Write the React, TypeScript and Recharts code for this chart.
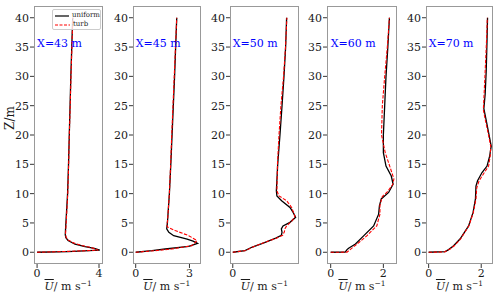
import { ScatterChart, Scatter, XAxis, YAxis, ReferenceDot } from "recharts";

// [U, Z] pairs
const x43Uniform = [[0, 0], [2.0, 0.12], [4.05, 0.35], [3.7, 0.65], [3.1, 0.95], [2.45, 1.4], [2.0, 2.0], [1.86, 2.5], [1.82, 3.0], [1.86, 5], [1.97, 10], [2.03, 15], [2.08, 20], [2.13, 25], [2.18, 30], [2.24, 35], [2.3, 40]];
const x43Turb = [[0, 0], [2.0, 0.15], [3.95, 0.35], [3.5, 0.8], [2.9, 1.15], [2.35, 1.6], [2.0, 2.1], [1.87, 2.6], [1.84, 3.2], [1.88, 5], [1.98, 10], [2.04, 15], [2.08, 20], [2.14, 25], [2.19, 30], [2.25, 35], [2.31, 40]];

const x45Uniform = [[0, 0], [0.91, 0.28], [1.65, 0.56], [2.96, 1.02], [3.45, 1.53], [3.2, 1.9], [2.87, 2.26], [2.12, 2.83], [1.85, 3.4], [1.73, 4.0], [1.77, 5], [1.88, 10], [1.96, 15], [2.03, 20], [2.1, 25], [2.17, 30], [2.23, 35], [2.29, 40]];
const x45Turb = [[0, 0], [1.09, 0.28], [2.02, 0.56], [3.13, 1.13], [3.42, 1.98], [3.2, 2.4], [2.96, 2.83], [2.2, 3.7], [1.78, 4.3], [1.74, 4.6], [1.78, 5.5], [1.88, 10], [1.95, 15], [2.01, 20], [2.08, 25], [2.15, 30], [2.22, 35], [2.29, 40]];

const x50Uniform = [[0, 0], [0.88, 0.27], [1.37, 0.85], [2.33, 1.7], [3.1, 2.4], [3.5, 2.9], [3.55, 3.4], [3.5, 4.0], [3.62, 4.5], [4.12, 5.1], [4.53, 5.96], [4.35, 6.8], [4.12, 7.65], [3.52, 8.8], [3.18, 9.6], [3.14, 10.5], [3.24, 15], [3.4, 20], [3.55, 25], [3.69, 30], [3.81, 35], [3.88, 40]];
const x50Turb = [[0, 0], [0.95, 0.3], [1.4, 0.85], [2.3, 1.7], [3.1, 2.35], [3.6, 2.9], [3.72, 3.5], [3.76, 4.0], [3.88, 4.5], [4.25, 5.3], [4.48, 6.1], [4.24, 7.65], [3.88, 8.8], [3.33, 9.6], [3.18, 10.5], [3.22, 15], [3.33, 20], [3.47, 25], [3.66, 30], [3.8, 35], [3.9, 40]];

const x60Uniform = [[0, 0], [0.55, 0.02], [0.62, 0.45], [0.68, 0.7], [0.94, 1.4], [1.25, 2.8], [1.63, 4.5], [1.82, 6.5], [1.85, 7.9], [1.92, 9.1], [2.2, 10.2], [2.37, 11.6], [2.3, 13.0], [2.1, 14.7], [2.0, 17.0], [2.0, 20], [2.05, 25], [2.1, 30], [2.17, 35], [2.23, 40]];
const x60Turb = [[0, 0], [0.62, 0.02], [0.75, 0.5], [1.0, 1.4], [1.37, 2.8], [1.75, 4.5], [1.87, 6.5], [1.87, 8], [1.96, 9.5], [2.13, 10.2], [2.35, 11.5], [2.4, 12.5], [2.24, 14.7], [2.07, 17], [1.93, 20], [1.96, 25], [2.05, 30], [2.15, 35], [2.23, 40]];

const x70Uniform = [[0, 0], [0.63, 0.1], [0.76, 0.45], [0.95, 1.1], [1.2, 2.3], [1.52, 4.5], [1.69, 6.8], [1.78, 9.1], [1.8, 11.3], [1.86, 12.2], [2.03, 13.6], [2.22, 14.7], [2.32, 16.4], [2.38, 18.1], [2.28, 20.4], [2.18, 22.7], [2.1, 24.5], [2.15, 27], [2.19, 31], [2.22, 36], [2.24, 40]];
const x70Turb = [[0, 0], [0.6, 0.05], [0.8, 0.5], [1.0, 1.2], [1.22, 2.3], [1.53, 4.5], [1.7, 6.8], [1.8, 9.1], [1.83, 11], [1.92, 12.2], [2.12, 13.6], [2.28, 14.7], [2.34, 16.4], [2.36, 18.1], [2.26, 20.4], [2.15, 22.7], [2.08, 24.3], [2.12, 28], [2.17, 33], [2.21, 37], [2.23, 40]];

const zTicks = [0, 5, 10, 15, 20, 25, 30, 35, 40];
const panelTitles = ["X=43 m", "X=45 m", "X=50 m", "X=60 m", "X=70 m"];
const seriesNames = ["uniform", "turb"];

const toPts = (a: number[][]) => a.map(([u, z]) => ({ u, z }));

const FONT = "'DejaVu Serif', 'Liberation Serif', serif";
const Y_AXIS_W = 30;
const TOP = 6;
const BOTTOM = 264;

const panels = [
  { title: panelTitles[0], left: 33.5, width: 69.2, domain: [-0.2, 4.27], ticks: [0, 4], uniform: x43Uniform, turb: x43Turb },
  { title: panelTitles[1], left: 132.7, width: 68.3, domain: [-0.15, 3.66], ticks: [0, 3], uniform: x45Uniform, turb: x45Turb },
  { title: panelTitles[2], left: 230, width: 68.7, domain: [-0.2, 4.75], ticks: [0], uniform: x50Uniform, turb: x50Turb },
  { title: panelTitles[3], left: 326.7, width: 70.6, domain: [-0.14, 2.54], ticks: [0, 2], uniform: x60Uniform, turb: x60Turb },
  { title: panelTitles[4], left: 425.7, width: 67.6, domain: [-0.1, 2.47], ticks: [0, 2], uniform: x70Uniform, turb: x70Turb },
];

const tickStyle = { fontSize: 11, fill: "#1a1a1a", fontFamily: FONT };
const noDot = () => <g />;

function Panel({ p }: { p: (typeof panels)[number] }) {
  return (
    <div style={{ position: "absolute", left: p.left - Y_AXIS_W, top: 0 }}>
      <ScatterChart width={Y_AXIS_W + p.width} height={298} margin={{ top: TOP, right: 0, bottom: 14, left: 0 }}>
        <XAxis
          type="number"
          dataKey="u"
          domain={p.domain}
          ticks={p.ticks}
          allowDataOverflow
          height={20}
          tickSize={4}
          tickMargin={1}
          axisLine={false}
          tickLine={{ stroke: "#333" }}
          tick={tickStyle}
        />
        <YAxis
          type="number"
          dataKey="z"
          domain={[-2, 42]}
          ticks={zTicks}
          allowDataOverflow
          width={Y_AXIS_W}
          tickSize={4}
          tickMargin={1}
          axisLine={false}
          tickLine={{ stroke: "#333" }}
          tick={tickStyle}
        />
        <Scatter
          name={seriesNames[0]}
          data={toPts(p.uniform)}
          line={{ stroke: "#000", strokeWidth: 1.3 }}
          fill="#000"
          shape={noDot}
          isAnimationActive={false}
        />
        <Scatter
          name={seriesNames[1]}
          data={toPts(p.turb)}
          line={{ stroke: "#ff0000", strokeWidth: 1.1, strokeDasharray: "3.5 1.5" }}
          fill="#ff0000"
          shape={noDot}
          isAnimationActive={false}
        />
        <ReferenceDot
          x={0}
          y={35}
          r={0}
          ifOverflow="visible"
          shape={(s: any) => (
            <text x={s.cx} y={s.cy} fill="#0000ff" fontSize={11} fontFamily={FONT}>
              {p.title}
            </text>
          )}
        />
      </ScatterChart>
      <div
        style={{
          position: "absolute",
          left: Y_AXIS_W,
          top: TOP,
          width: p.width,
          height: BOTTOM - TOP,
          border: "1px solid #999",
          boxSizing: "border-box",
          pointerEvents: "none",
        }}
      />
      <div
        style={{
          position: "absolute",
          left: Y_AXIS_W,
          top: 279,
          width: p.width,
          textAlign: "center",
          fontFamily: FONT,
          fontSize: 11,
          color: "#1a1a1a",
          whiteSpace: "nowrap",
        }}
      >
        <span style={{ fontStyle: "italic", textDecoration: "overline" }}>U</span>/ m s
        <sup style={{ fontSize: 7.5, verticalAlign: "4px" }}>−1</sup>
      </div>
    </div>
  );
}

export default function App() {
  return (
    <div style={{ position: "absolute", left: 0, top: 0, width: 500, height: 298, background: "#fff", overflow: "hidden" }}>
      {panels.map((p) => (
        <Panel key={p.title} p={p} />
      ))}
      <div
        style={{
          position: "absolute",
          left: 10,
          top: 118,
          transform: "translate(-50%, -50%) rotate(-90deg)",
          fontFamily: FONT,
          fontSize: 12,
          color: "#1a1a1a",
          whiteSpace: "nowrap",
        }}
      >
        Z/m
      </div>
      <div
        style={{
          position: "absolute",
          left: 52,
          top: 9,
          width: 49,
          height: 21,
          border: "1px solid #ccc",
          borderRadius: 2,
          background: "rgba(255,255,255,0.8)",
          boxSizing: "border-box",
          fontFamily: FONT,
          fontSize: 7,
          color: "#222",
          padding: "1px 0 0 2px",
          lineHeight: "9px",
        }}
      >
        {seriesNames.map((n, i) => (
          <div key={n} style={{ display: "flex", alignItems: "center", gap: 3 }}>
            <svg width={15} height={8}>
              <line
                x1={0}
                y1={4}
                x2={15}
                y2={4}
                stroke={i === 0 ? "#000" : "#ff0000"}
                strokeWidth={1.2}
                strokeDasharray={i === 0 ? undefined : "3 1.5"}
              />
            </svg>
            <span>{n}</span>
          </div>
        ))}
      </div>
    </div>
  );
}
